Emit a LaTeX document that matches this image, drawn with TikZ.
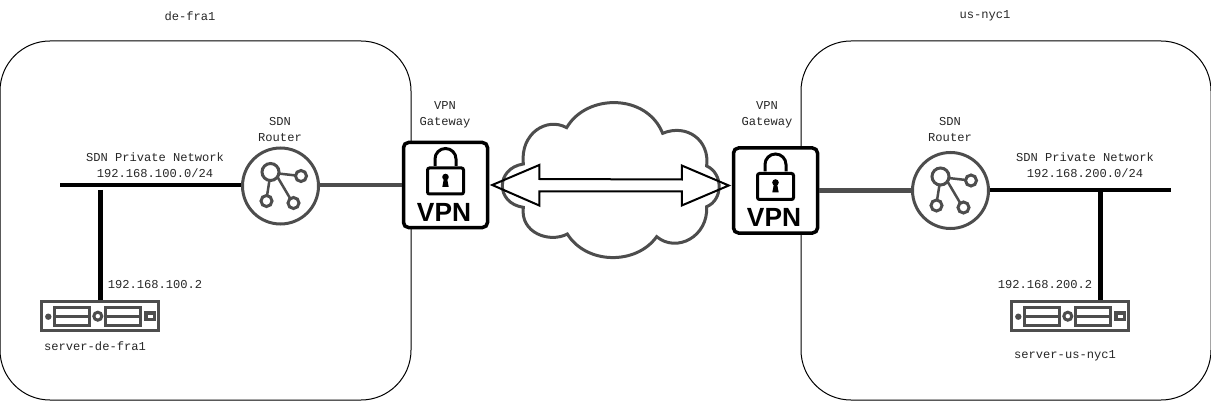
\documentclass[tikz,border=0pt]{standalone}
\usepackage{fontspec}
\setmonofont{Liberation Mono}
\setsansfont{Liberation Sans}
\usetikzlibrary{calc}

\definecolor{icongray}{HTML}{4D4D4D}

\tikzset{
    region/.style={draw=black, line width=1pt, rounded corners=50pt},
    lbl/.style={font=\fontsize{12.1}{16}\selectfont\ttfamily, align=center, text=black!85, inner sep=0pt},
    net/.style={black, line width=4.5pt},
    uplink/.style={icongray, line width=4.5pt},
    routerbox/.style={circle, draw=icongray, line width=3pt, fill=white, minimum size=76pt, inner sep=0pt},
    vpnbox/.style={rectangle, draw=black, line width=3.5pt, fill=white, rounded corners=5pt, minimum width=84pt, minimum height=85pt, inner sep=0pt},
    serverbox/.style={rectangle, draw=icongray, line width=3pt, fill=white, minimum width=117pt, minimum height=29pt, inner sep=0pt},
    tunnel/.style={black, line width=2pt, line join=miter},
    cloudline/.style={icongray, line width=3pt},
    pics/routericon/.style={code={
        \draw[icongray, line width=3pt] (-10,-14) circle (8.5pt);
        \draw[icongray, line width=3pt] (20.5,-10) circle (5.5pt);
        \draw[icongray, line width=3pt] (-14,15) circle (5.5pt);
        \draw[icongray, line width=3pt] (13,17) circle (5.5pt);
        \draw[icongray, line width=2.5pt] (-2,-12.5) -- (15.5,-10.5);
        \draw[icongray, line width=2.5pt] (-11,-6) -- (-13.5,10);
        \draw[icongray, line width=2.5pt] (-3,-9) -- (10,13);
    }},
    pics/vpnicon/.style={code={
        \draw[black, line width=3pt] (-10.5,-19) -- (-10.5,-26) arc (180:0:10.5pt) -- (10.5,-19);
        \draw[black, line width=3pt, fill=white, rounded corners=2pt] (-18,-17) rectangle (18,9);
        \fill[black] (0,-8) circle (3.3pt);
        \fill[black] (-1.5,-7) -- (1.5,-7) -- (3.2,2) -- (-3.2,2) -- cycle;
        \node[font=\fontsize{26.3}{26.3}\selectfont\sffamily\bfseries, inner sep=0pt] at (-1.5,27) {VPN};
    }},
    pics/servericon/.style={code={
        \fill[icongray] (-52,0.5) circle (3.2pt);
        \draw[icongray, line width=3.2pt] (-46,-9) rectangle (-11,9.5);
        \draw[icongray, line width=2.5pt] (-46,0.5) -- (-11,0.5);
        \draw[icongray, line width=3pt] (-2.5,0) circle (4pt);
        \draw[icongray, line width=3.2pt] (5.5,-9) rectangle (40.5,9.5);
        \draw[icongray, line width=2.5pt] (5.5,0.5) -- (40.5,0.5);
        \draw[icongray, line width=3.5pt] (45.5,-3) rectangle (54,3.5);
    }},
}

\begin{document}
\begin{tikzpicture}[x=1pt, y=-1pt]
    \useasboundingbox (0,0) rectangle (1211,401);

    % Regiones
    \draw[region] (0,41) rectangle (411,400);
    \draw[region] (801,41) rectangle (1211,400);
    \node[lbl] (fra) at (190,16) {de-fra1};
    \node[lbl] (nyc) at (985,16) {us-nyc1};

    % Nube
    \begin{scope}[shift={(490,90)}, x=0.3333pt, y=-0.3333pt]
        \draw[cloudline] (230,113) .. controls (290,10) and (470,10) .. (518,130)
            .. controls (590,100) and (660,150) .. (650,228)
            .. controls (700,250) and (700,330) .. (650,350)
            .. controls (655,440) and (560,490) .. (500,440)
            .. controls (440,525) and (290,525) .. (232,432)
            .. controls (180,460) and (90,430) .. (100,352)
            .. controls (16,340) and (16,235) .. (100,222)
            .. controls (90,130) and (170,80) .. cycle;
    \end{scope}

    % Nodos
    \node[routerbox] (rt1) at (280.5,186) {};
    \node[routerbox] (rt2) at (950.5,190.5) {};
    \node[vpnbox] (vpn1) at (445.5,185) {};
    \node[vpnbox] (vpn2) at (775.5,190.5) {};
    \node[serverbox] (srv1) at (100.3,316.2) {};
    \node[serverbox] (srv2) at (1070.3,316.2) {};

    % Iconos
    \pic at (rt1) {routericon};
    \pic at (rt2) {routericon};
    \pic at (vpn1) {vpnicon};
    \pic at (vpn2) {vpnicon};
    \pic at (srv1) {servericon};
    \pic at (srv2) {servericon};

    % Redes privadas
    \coordinate (net1) at (60,185);
    \coordinate (net2) at (1171,190);
    \coordinate (tap1) at (100.3,190);
    \coordinate (tap2) at (1100.7,190);
    \draw[net] (net1) -- (net1 -| rt1.west);
    \draw[net] (net2 -| rt2.east) -- (net2);
    \draw[net] (tap1) -- (tap1 |- srv1.north);
    \draw[net] (tap2) -- (tap2 |- srv2.north);

    % Enlaces al gateway
    \draw[uplink] (vpn1.west -| rt1.east) -- (vpn1.west);
    \draw[uplink] (vpn2.east) -- (vpn2.east -| rt2.west);

    % Tunel
    \coordinate (tipl) at ([xshift=3pt]vpn1.east);
    \coordinate (tipr) at ([xshift=-3pt,yshift=5pt]vpn2.west);
    \draw[tunnel] (tipl) -- ++(47,-20) -- ++(0,14) -- ($(tipr)+(-47,-6)$) -- ++(0,-14)
        -- (tipr) -- ++(-47,20) -- ++(0,-14) -- ($(tipl)+(47,6.5)$) -- ++(0,14) -- cycle;

    % Textos
    \node[lbl] (gw1) at (445,114.7) {VPN\\Gateway};
    \node[lbl] (gw2) at (767,114.7) {VPN\\Gateway};
    \node[lbl] (rl1) at (280,130) {SDN\\Router};
    \node[lbl] (rl2) at (950,130) {SDN\\Router};
    \node[lbl] (nl1) at (155,165) {SDN Private Network\\192.168.100.0/24};
    \node[lbl] (nl2) at (1085,165) {SDN Private Network\\192.168.200.0/24};
    \node[lbl] (ip1) at (155,285) {192.168.100.2};
    \node[lbl] (ip2) at (1045,285) {192.168.200.2};
    \node[lbl] (sl1) at (95,346) {server-de-fra1};
    \node[lbl] (sl2) at (1065,355.5) {server-us-nyc1};
\end{tikzpicture}
\end{document}
